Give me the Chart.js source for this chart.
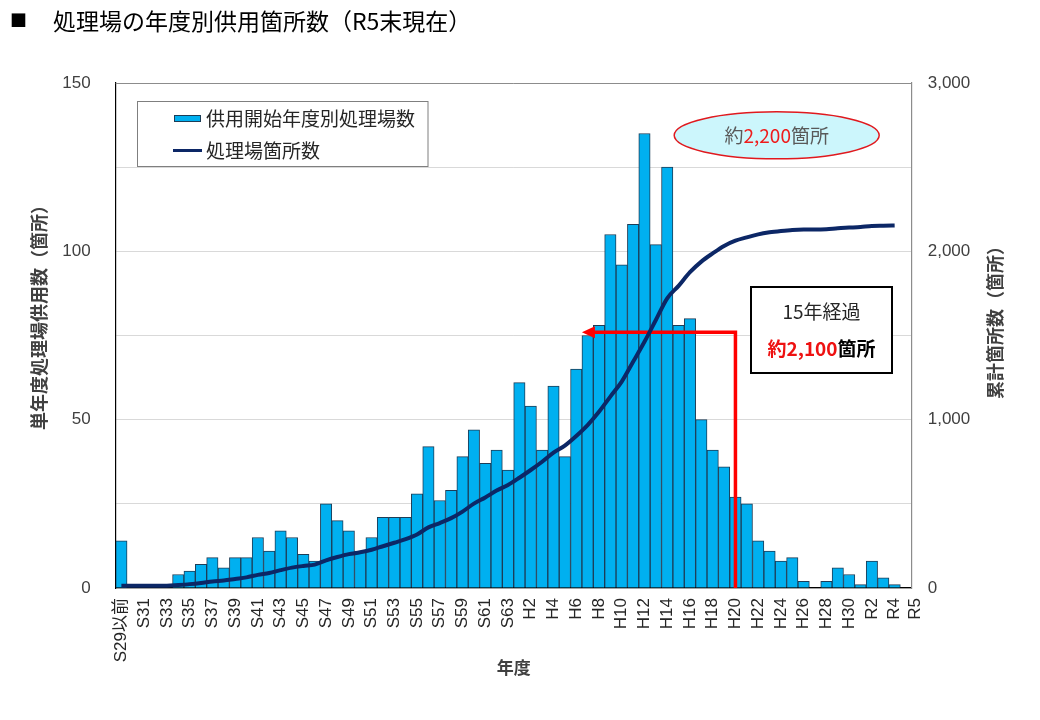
<!DOCTYPE html>
<html lang="ja">
<head>
<meta charset="utf-8">
<title>処理場の年度別供用箇所数</title>
<script src="https://cdn.jsdelivr.net/npm/chart.js@4.4.1/dist/chart.umd.min.js"></script>
<style>
  html, body { margin: 0; padding: 0; background: #fff; }
  #wrap { position: relative; width: 1040px; height: 720px; }
  #myChart { position: absolute; left: 0; top: 0; }
  .title { position: absolute; font-family: "Noto Sans CJK JP", sans-serif; color: #000; white-space: nowrap; line-height: 30px; }
</style>
</head>
<body>
<div id="wrap">
  <canvas id="myChart" width="1040" height="720"></canvas>
  <div class="title" style="left:10px; top:5px; font-size:17px;">■</div>
  <div class="title" style="left:53px; top:5px; font-size:23px;">処理場の年度別供用箇所数（R5末現在）</div>
</div>
<script>
// 年度 (S29以前 ... R5)
var categories = [
  'S29以前', 'S30', 'S31', 'S32', 'S33', 'S34', 'S35', 'S36', 'S37', 'S38',
  'S39', 'S40', 'S41', 'S42', 'S43', 'S44', 'S45', 'S46', 'S47', 'S48',
  'S49', 'S50', 'S51', 'S52', 'S53', 'S54', 'S55', 'S56', 'S57', 'S58',
  'S59', 'S60', 'S61', 'S62', 'S63', 'H1', 'H2', 'H3', 'H4', 'H5',
  'H6', 'H7', 'H8', 'H9', 'H10', 'H11', 'H12', 'H13', 'H14', 'H15',
  'H16', 'H17', 'H18', 'H19', 'H20', 'H21', 'H22', 'H23', 'H24', 'H25',
  'H26', 'H27', 'H28', 'H29', 'H30', 'R1', 'R2', 'R3', 'R4', 'R5'
];

// 供用開始年度別処理場数 (left axis)
var plantsByYear = [
  14, 0, 0, 0, 0, 4, 5, 7, 9, 6,
  9, 9, 15, 11, 17, 15, 10, 8, 25, 20,
  17, 11, 15, 21, 21, 21, 28, 42, 26, 29,
  39, 47, 37, 41, 35, 61, 54, 41, 60, 39,
  65, 75, 78, 105, 96, 108, 135, 102, 125, 78,
  80, 50, 41, 36, 27, 25, 14, 11, 8, 9,
  2, 0, 2, 6, 4, 1, 8, 3, 1, 0
];

// 処理場箇所数 (right axis)
var totalPlants = [
  14, 14, 14, 14, 14, 18, 23, 30, 39, 45,
  54, 63, 78, 89, 106, 121, 131, 139, 164, 184,
  201, 212, 227, 248, 269, 290, 318, 360, 386, 415,
  454, 501, 538, 579, 612, 655, 701, 750, 804, 846,
  903, 968, 1047, 1137, 1226, 1344, 1463, 1592, 1721, 1795,
  1876, 1939, 1988, 2032, 2063, 2083, 2101, 2113, 2121, 2127,
  2129, 2129, 2131, 2137, 2141, 2145, 2151, 2152, 2153, null
];

var leftTicks = [0, 50, 100, 150];
var rightTicks = [0, 1000, 2000, 3000];

var CJK = '"Noto Sans CJK JP", sans-serif';
var LAT = '"Liberation Sans", "Noto Sans CJK JP", sans-serif';
var barBlue = '#00b0f0';
var navy = '#0c2766';

// the year labels use a narrow face if one is installed
var probe = document.createElement('canvas').getContext('2d');
probe.font = '20px monospace';
var monoW = probe.measureText('S31H10').width;
probe.font = '20px "Liberation Sans Narrow", monospace';
var hasNarrow = Math.abs(probe.measureText('S31H10').width - monoW) > 0.5;
var tickFont = hasNarrow
  ? { family: '"Liberation Sans Narrow", "Noto Sans CJK JP", sans-serif', size: 20 }
  : { family: LAT, size: 17 };

// draws several coloured pieces of text centred on x
function drawPieces(ctx, pieces, cx, cy, font) {
  ctx.font = font;
  var total = 0;
  pieces.forEach(function(p) { total += ctx.measureText(p[0]).width; });
  var x = cx - total / 2;
  ctx.textAlign = 'left';
  ctx.textBaseline = 'middle';
  pieces.forEach(function(p) {
    ctx.fillStyle = p[1];
    ctx.fillText(p[0], x, cy);
    x += ctx.measureText(p[0]).width;
  });
}

var annotations = {
  id: 'annotations',
  afterDatasetDraw: function(chart, args) {
    if (args.index !== 0) return;
    // red "15年経過" arrow, drawn between the bars and the line
    var ctx = chart.ctx, x = chart.scales.x, y = chart.scales.y;
    var half = (x.getPixelForValue(1) - x.getPixelForValue(0)) / 2;
    var xs = x.getPixelForValue(categories.indexOf('H20'));
    var xe = x.getPixelForValue(categories.indexOf('H7')) - half;
    var ya = y.getPixelForValue(76);
    ctx.save();
    ctx.strokeStyle = '#ff0000';
    ctx.lineWidth = 3.5;
    ctx.beginPath();
    ctx.moveTo(xs, y.bottom);
    ctx.lineTo(xs, ya);
    ctx.lineTo(xe + 10, ya);
    ctx.stroke();
    ctx.fillStyle = '#ff0000';
    ctx.beginPath();
    ctx.moveTo(xe, ya);
    ctx.lineTo(xe + 13, ya - 6);
    ctx.lineTo(xe + 13, ya + 6);
    ctx.closePath();
    ctx.fill();
    ctx.restore();
  },
  afterDraw: function(chart) {
    var ctx = chart.ctx, a = chart.chartArea;
    ctx.save();

    // top border of plot
    ctx.strokeStyle = '#8c8c8c';
    ctx.lineWidth = 1;
    ctx.beginPath();
    ctx.moveTo(a.left, a.top + 0.5);
    ctx.lineTo(a.right, a.top + 0.5);
    ctx.stroke();

    // last year label sits a little right of its slot, as in the original
    ctx.save();
    ctx.font = tickFont.size + 'px ' + tickFont.family;
    ctx.fillStyle = '#262626';
    ctx.textAlign = 'right';
    ctx.textBaseline = 'middle';
    ctx.translate(a.right + 3.5, a.bottom + 10);
    ctx.rotate(-Math.PI / 2);
    ctx.fillText(categories[categories.length - 1], 0, 0);
    ctx.restore();

    // legend
    ctx.fillStyle = '#fff';
    ctx.fillRect(137.5, 101.5, 290.5, 65);
    ctx.strokeStyle = '#7f7f7f';
    ctx.strokeRect(137.5, 101.5, 290.5, 65);
    ctx.fillStyle = barBlue;
    ctx.fillRect(174, 115, 27, 7);
    ctx.strokeStyle = '#1d3d57';
    ctx.strokeRect(174.5, 115.5, 26, 6);
    ctx.strokeStyle = navy;
    ctx.lineWidth = 3;
    ctx.beginPath();
    ctx.moveTo(173, 150.5);
    ctx.lineTo(202, 150.5);
    ctx.stroke();
    ctx.font = '19px ' + CJK;
    ctx.fillStyle = '#262626';
    ctx.textAlign = 'left';
    ctx.textBaseline = 'middle';
    ctx.fillText('供用開始年度別処理場数', 206, 118.5);
    ctx.fillText('処理場箇所数', 206, 151);

    // ellipse
    ctx.beginPath();
    ctx.ellipse(776.7, 135.3, 102.5, 23.5, 0, 0, Math.PI * 2);
    ctx.fillStyle = '#ccf6fc';
    ctx.fill();
    ctx.strokeStyle = '#e0191e';
    ctx.lineWidth = 1.5;
    ctx.stroke();
    drawPieces(ctx, [['約', '#595959'], ['2,200', '#ee1c1c'], ['箇所', '#595959']],
      776.7, 135.5, '19px ' + CJK);

    // 15年経過 box
    ctx.fillStyle = '#fff';
    ctx.fillRect(751, 287, 141, 86);
    ctx.strokeStyle = '#000';
    ctx.lineWidth = 2;
    ctx.strokeRect(751, 287, 141, 86);
    drawPieces(ctx, [['15年経過', '#262626']], 821.5, 312, '19px ' + CJK);
    drawPieces(ctx, [['約2,100', '#ee1111'], ['箇所', '#000']], 821.5, 349, 'bold 19px ' + CJK);

    // axis titles
    ctx.fillStyle = '#404040';
    ctx.font = 'bold 18px ' + CJK;
    ctx.textAlign = 'center';
    ctx.textBaseline = 'middle';
    ctx.translate(39, 313);
    ctx.rotate(-Math.PI / 2);
    ctx.fillText('単年度処理場供用数（箇所）', 0, 0);
    ctx.setTransform(1, 0, 0, 1, 0, 0);
    ctx.translate(995, 318);
    ctx.rotate(-Math.PI / 2);
    ctx.fillText('累計箇所数（箇所）', 0, 0);
    ctx.restore();
  }
};

document.addEventListener('DOMContentLoaded', function() {
  var data = {
    labels: categories,
    datasets: [{
      type: 'bar',
      label: '供用開始年度別処理場数',
      data: plantsByYear,
      yAxisID: 'y',
      backgroundColor: barBlue,
      borderColor: '#1d3d57',
      borderWidth: 1,
      barPercentage: 1,
      categoryPercentage: 1,
      order: 2
    }, {
      type: 'line',
      label: '処理場箇所数',
      data: totalPlants,
      yAxisID: 'y2',
      borderColor: navy,
      borderWidth: 4,
      pointRadius: 0,
      cubicInterpolationMode: 'monotone',
      fill: false,
      order: 1
    }]
  };

  var config = {
    data: data,
    options: {
      responsive: false,
      animation: false,
      layout: { padding: { top: 83, bottom: 38, left: 0, right: 0 } },
      plugins: {
        legend: { display: false },
        tooltip: { enabled: false }
      },
      scales: {
        x: {
          grid: { display: false, drawTicks: false },
          border: { color: '#000', width: 1.2 },
          ticks: {
            autoSkip: false,
            minRotation: 90,
            maxRotation: 90,
            padding: 10,
            color: '#262626',
            font: tickFont,
            callback: function(v, i) {
              return i % 2 === 0 ? categories[i] : '';
            }
          },
          title: {
            display: true,
            text: '年度',
            color: '#404040',
            font: { family: CJK, size: 17, weight: 'bold' },
            padding: { top: 0, bottom: 4 }
          },
          afterFit: function(s) { s.height = 94; }
        },
        y: {
          position: 'left',
          min: 0,
          max: 150,
          grid: { color: '#d9d9d9', drawTicks: false },
          border: { color: '#000', width: 1.2 },
          ticks: {
            stepSize: 25,
            padding: 25,
            color: '#404040',
            font: { family: LAT, size: 17 },
            callback: function(v) { return leftTicks.indexOf(v) >= 0 ? v : ''; }
          },
          afterFit: function(s) { s.width = 115.7; }
        },
        y2: {
          position: 'right',
          min: 0,
          max: 3000,
          grid: { display: false, drawTicks: false },
          border: { color: '#8c8c8c', width: 1.2 },
          ticks: {
            stepSize: 1000,
            padding: 16,
            color: '#404040',
            font: { family: LAT, size: 17 },
            callback: function(v) { return rightTicks.indexOf(v) >= 0 ? v.toLocaleString('en-US') : ''; }
          },
          afterFit: function(s) { s.width = 128.3; }
        }
      }
    },
    plugins: [annotations]
  };

  var ctx = document.getElementById('myChart').getContext('2d');
  var myChart = new Chart(ctx, config);
});
</script>
</body>
</html>
